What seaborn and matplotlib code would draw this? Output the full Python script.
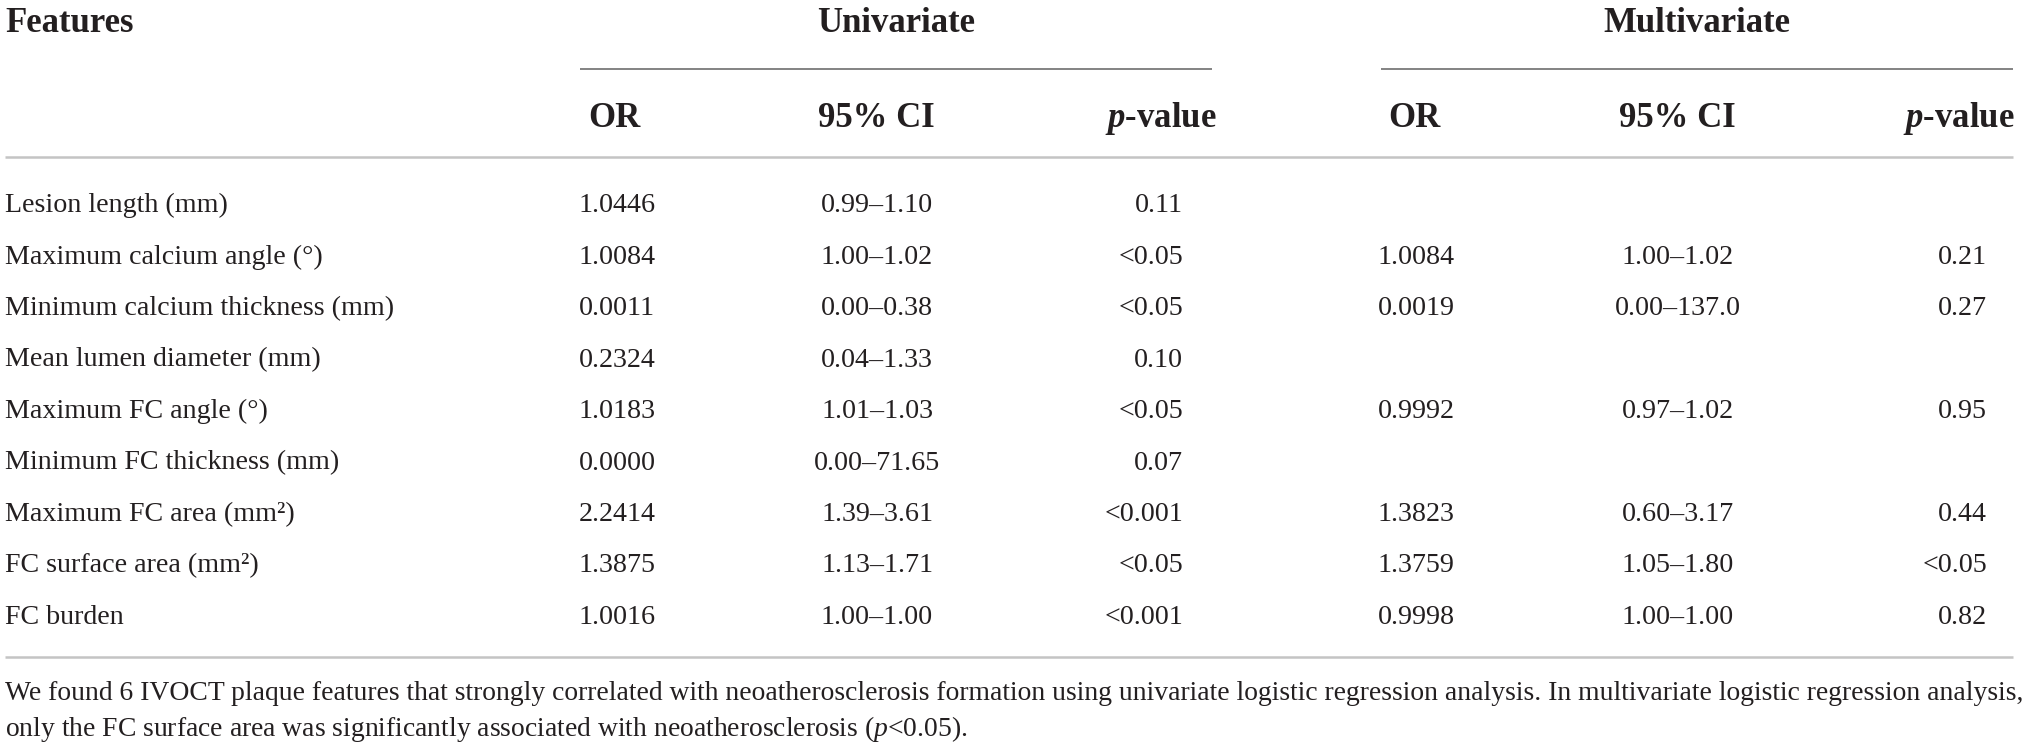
import matplotlib
matplotlib.use("Agg")
import matplotlib.pyplot as plt
import seaborn as sns

# Datos de la tabla
features = ['Lesion length (mm)', 'Maximum calcium angle (°)', 'Minimum calcium thickness (mm)',
            'Mean lumen diameter (mm)', 'Maximum FC angle (°)', 'Minimum FC thickness (mm)',
            'Maximum FC area (mm²)', 'FC surface area (mm²)', 'FC burden']
or_uni = ['1.0446', '1.0084', '0.0011', '0.2324', '1.0183', '0.0000', '2.2414', '1.3875', '1.0016']
ci_uni = ['0.99–1.10', '1.00–1.02', '0.00–0.38', '0.04–1.33', '1.01–1.03', '0.00–71.65',
          '1.39–3.61', '1.13–1.71', '1.00–1.00']
p_uni = ['0.11', '<0.05', '<0.05', '0.10', '<0.05', '0.07', '<0.001', '<0.05', '<0.001']
or_multi = ['', '1.0084', '0.0019', '', '0.9992', '', '1.3823', '1.3759', '0.9998']
ci_multi = ['', '1.00–1.02', '0.00–137.0', '', '0.97–1.02', '', '0.60–3.17', '1.05–1.80', '1.00–1.00']
p_multi = ['', '0.21', '0.27', '', '0.95', '', '0.44', '<0.05', '0.82']
grupos = ['Univariate', 'Multivariate']
nota = ['We found 6 IVOCT plaque features that strongly correlated with neoatherosclerosis formation '
        'using univariate logistic regression analysis. In multivariate logistic regression analysis,',
        r'only the FC surface area was significantly associated with neoatherosclerosis ($\mathit{p}$<0.05).']

sns.set_theme(style="white")
plt.rcParams['font.family'] = ['Liberation Serif', 'DejaVu Serif']
plt.rcParams['mathtext.fontset'] = 'custom'
plt.rcParams['mathtext.rm'] = 'Liberation Serif'
plt.rcParams['mathtext.it'] = 'Liberation Serif:italic'
plt.rcParams['mathtext.bf'] = 'Liberation Serif:bold:italic'

W, H = 2022, 748
fig = plt.figure(figsize=(W / 100, H / 100), dpi=100, facecolor='white')
ax = fig.add_axes([0, 0, 1, 1])
ax.set_xlim(0, W)
ax.set_ylim(H, 0)
ax.axis('off')

negro = '#231f20'
fs_head = 25
fs_body = 20.2
fs_nota = 19.9

# Encabezado
ax.text(5, 32, 'Features', fontsize=fs_head, fontweight='bold', color=negro, va='baseline')
for grupo, xc, (x0, x1) in zip(grupos, [896, 1697], [(580, 1212), (1381, 2013)]):
	ax.text(xc, 32, grupo, fontsize=fs_head, fontweight='bold', color=negro, ha='center', va='baseline')
	ax.hlines(69, x0, x1, color='#7a7a7a', linewidth=1.3)

for x_or, x_ci, x_p in [(614, 876, 1217), (1414, 1677, 2015)]:
	ax.text(x_or, 127, 'OR', fontsize=fs_head, fontweight='bold', color=negro, ha='center', va='baseline')
	ax.text(x_ci, 127, '95% CI', fontsize=fs_head, fontweight='bold', color=negro, ha='center', va='baseline')
	ax.text(x_p, 127, r'$\mathbf{p}$-value', fontsize=fs_head, fontweight='bold', color=negro,
	        ha='right', va='baseline')

ax.hlines(157, 5, 2013, color='#c4c4c4', linewidth=1.8)

# Filas
for i, feat in enumerate(features):
	y = 212 + 51.5 * i
	ax.text(5, y, feat, fontsize=fs_body, color=negro, va='baseline')
	columnas = [(or_uni, 617, 'center'), (ci_uni, 877, 'center'), (p_uni, 1183, 'right'),
	            (or_multi, 1416, 'center'), (ci_multi, 1678, 'center'), (p_multi, 1987, 'right')]
	for valores, x, ha in columnas:
		if valores[i]:
			ax.text(x, y, valores[i], fontsize=fs_body, color=negro, ha=ha, va='baseline')

ax.hlines(657, 5, 2013, color='#c4c4c4', linewidth=1.8)

# Nota al pie
for j, linea in enumerate(nota):
	ax.text(5, 700 + 36 * j, linea, fontsize=fs_nota, color=negro, va='baseline')

plt.savefig('out.png', dpi=100, facecolor='white')
